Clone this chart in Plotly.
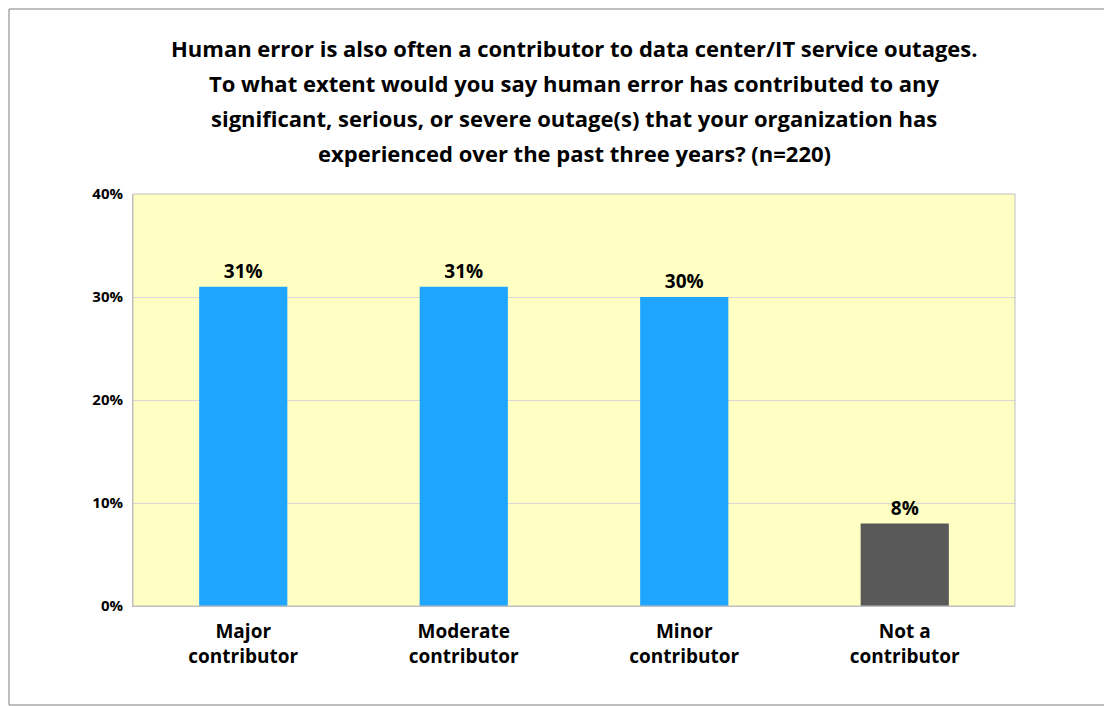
import plotly.graph_objects as go

# data
categories = ["Major<br>contributor", "Moderate<br>contributor", "Minor<br>contributor", "Not a<br>contributor"]
values = [31, 31, 30, 8]
bar_colors = ["#1FA5FF", "#1FA5FF", "#1FA5FF", "#595959"]
y_ticks = [0, 10, 20, 30, 40]

title_lines = [
    "Human error is also often a contributor to data center/IT service outages.",
    "To what extent would you say human error has contributed to any",
    "significant, serious, or severe outage(s) that your organization has",
    "experienced over the past three years? (n=220)",
]

W, H = 1104, 698
L, R, T, B = 125, 97, 186, 100
PW, PH = W - L - R, H - T - B

fig = go.Figure()
fig.add_trace(go.Bar(
    x=categories,
    y=values,
    marker=dict(color=bar_colors, line=dict(width=0)),
    text=[f"<b>{v}%</b>" for v in values],
    textposition="outside",
    textfont=dict(size=19, color="black", family="Open Sans"),
    cliponaxis=False,
    showlegend=False,
))

# title lines as separate annotations to get the wide line spacing
for i, line in enumerate(title_lines):
    ypx = 40 + i * 35
    fig.add_annotation(text="<b>" + line + "</b>", xref="paper", yref="paper",
                       x=0.5 + (L - R) / 2 / PW * 0 - 0.0, y=(H - B - ypx) / PH,
                       xanchor="center", yanchor="middle", showarrow=False,
                       font=dict(size=22, family="Open Sans", color="black"))

fig.update_layout(
    width=W, height=H,
    paper_bgcolor="white",
    plot_bgcolor="#FFFFC4",
    font=dict(family="Open Sans", color="black"),
    margin=dict(l=L, r=R, t=T, b=B),
    bargap=0.6,
    xaxis=dict(tickfont=dict(size=19), showline=True, linecolor="#BFBFBF",
               ticks="outside", ticklen=8, tickcolor="rgba(0,0,0,0)",
               tickprefix="<b>", ticksuffix="</b>"),
    yaxis=dict(range=[0, 40], tickvals=y_ticks, ticktext=[f"<b>{t}%</b>" for t in y_ticks],
               tickfont=dict(size=15), gridcolor="#D9D9D9", showline=True,
               linecolor="#BFBFBF", zeroline=False, ticks="outside",
               ticklen=6, tickcolor="rgba(0,0,0,0)"),
    shapes=[
        dict(type="rect", xref="paper", yref="paper", x0=0, x1=1, y0=0, y1=1,
             line=dict(color="#BFBFBF", width=1), layer="above"),
        dict(type="rect", xref="paper", yref="paper", x0=-(L - 1) / PW, x1=1 + (R - 1) / PW,
             y0=-(B - 1) / PH, y1=1 + (T - 1) / PH, line=dict(color="#7F7F7F", width=1)),
    ],
)

fig.write_html("out.html")
